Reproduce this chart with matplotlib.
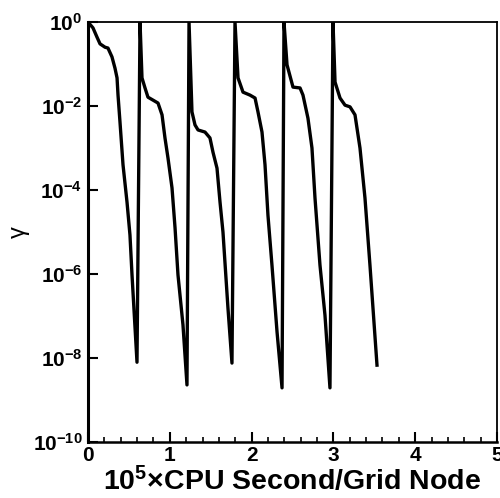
import numpy as np
import matplotlib
matplotlib.use("Agg")
import matplotlib.pyplot as plt
from matplotlib.ticker import FixedLocator, MultipleLocator

plt.rcParams['font.family'] = ['Liberation Sans', 'DejaVu Sans']
plt.rcParams['font.weight'] = 'bold'
plt.rcParams['axes.labelweight'] = 'bold'
plt.rcParams['mathtext.fontset'] = 'custom'
plt.rcParams['mathtext.rm'] = 'Liberation Sans:bold'
plt.rcParams['mathtext.default'] = 'regular'

# convergence history (x in 1e5 CPU s / node, log10 of gamma)
# cycle 1
cpu_1 = [0.0, 0.061, 0.110, 0.147, 0.208, 0.244, 0.293, 0.330, 0.355, 0.367,
         0.391, 0.428, 0.477, 0.513, 0.538, 0.599]
lg_1 = [0.0, -0.14, -0.36, -0.52, -0.60, -0.62, -0.83, -1.10, -1.33, -1.74,
        -2.38, -3.40, -4.29, -5.07, -6.02, -8.10]
# cycle 2 (restart)
cpu_2 = [0.636, 0.660, 0.697, 0.733, 0.795, 0.856, 0.905, 0.941, 0.978, 1.027,
         1.064, 1.100, 1.161, 1.210]
lg_2 = [0.0, -1.33, -1.57, -1.79, -1.86, -1.93, -2.21, -2.76, -3.24, -3.95,
        -4.90, -6.02, -7.21, -8.64]
# cycle 3
cpu_3 = [1.235, 1.271, 1.308, 1.345, 1.430, 1.491, 1.528, 1.577, 1.614, 1.650,
         1.711, 1.760]
lg_3 = [0.0, -2.14, -2.45, -2.57, -2.62, -2.76, -3.10, -3.48, -4.29, -5.00,
        -6.81, -8.12]
# cycle 4
cpu_4 = [1.797, 1.834, 1.895, 1.980, 2.042, 2.078, 2.127, 2.164, 2.200, 2.249,
         2.311, 2.372]
lg_4 = [0.0, -1.33, -1.67, -1.74, -1.81, -2.14, -2.62, -3.40, -4.60, -5.79,
        -7.38, -8.71]
# cycle 5
cpu_5 = [2.396, 2.433, 2.506, 2.592, 2.628, 2.689, 2.738, 2.775, 2.836, 2.897,
         2.958]
lg_5 = [0.0, -1.02, -1.55, -1.57, -1.74, -2.29, -3.00, -4.19, -5.79, -6.98,
        -8.71]
# cycle 6
cpu_6 = [2.995, 3.020, 3.081, 3.142, 3.203, 3.264, 3.325, 3.386, 3.447, 3.533]
lg_6 = [0.0, -1.43, -1.81, -1.98, -2.02, -2.21, -3.00, -4.19, -5.79, -8.17]

ytick_vals = [1e0, 1e-2, 1e-4, 1e-6, 1e-8, 1e-10]
ytick_labels = ['10$^{0}$', '10$^{-2}$', '10$^{-4}$', '10$^{-6}$', '10$^{-8}$', '10$^{-10}$']
xtick_vals = [0, 1, 2, 3, 4, 5]

cpu = np.concatenate([cpu_1, cpu_2, cpu_3, cpu_4, cpu_5, cpu_6])
gamma = 10.0 ** np.concatenate([lg_1, lg_2, lg_3, lg_4, lg_5, lg_6])

fig = plt.figure(figsize=(5.0, 4.98), dpi=100)
ax = fig.add_axes([0.176, 0.1124, 0.818, 0.8434])

ax.plot(cpu, gamma, color='black', lw=2.4, solid_joinstyle='round')

ax.set_yscale('log')
ax.set_xlim(0, 5)
ax.set_ylim(1e-10, 1)

ax.yaxis.set_major_locator(FixedLocator(ytick_vals))
ax.yaxis.set_minor_locator(FixedLocator([]))
ax.set_yticklabels(ytick_labels)
ax.xaxis.set_major_locator(FixedLocator(xtick_vals))
ax.xaxis.set_minor_locator(MultipleLocator(0.2))
ax.set_xticklabels([str(v) for v in xtick_vals])

ax.tick_params(which='both', direction='in', top=False, right=False,
               labelsize=15, width=1.5, colors='black')
ax.tick_params(which='major', length=7)
ax.tick_params(which='minor', length=3.5, width=1.2)
ax.tick_params(axis='x', pad=3)
ax.tick_params(axis='y', pad=4)

ax.spines['left'].set_linewidth(2.2)
ax.spines['bottom'].set_linewidth(1.8)
ax.spines['top'].set_linewidth(1.3)
ax.spines['right'].set_linewidth(1.3)

ax.set_xlabel('10$^{5}$\u00d7CPU Second/Grid Node', fontsize=20.5, labelpad=1)
ax.set_ylabel('\u03b3', fontsize=17, fontweight='normal', labelpad=2)

fig.savefig('out.png', dpi=100)
